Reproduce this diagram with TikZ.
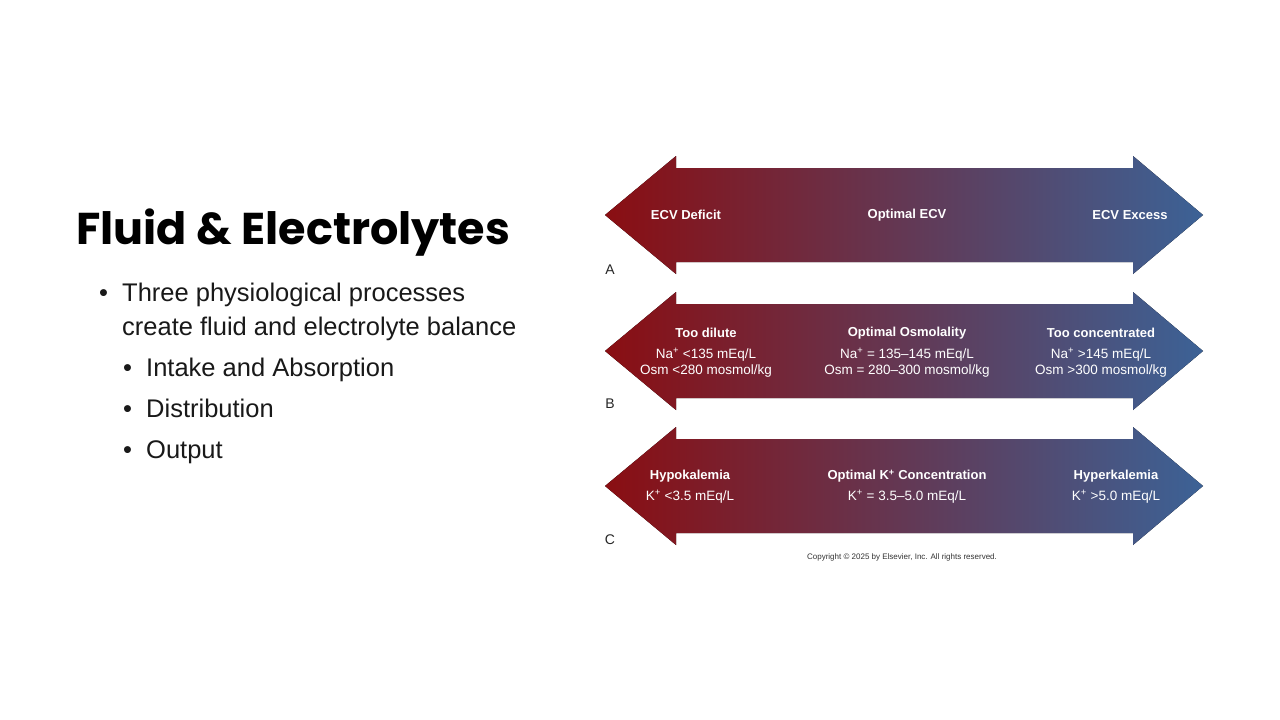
\documentclass[tikz,border=0pt]{standalone}
\usepackage{fontspec}
\setmainfont{Liberation Sans}
\newfontfamily\titlefont{Poppins}[UprightFont=* Bold]
\usepackage{graphicx}
\definecolor{ared}{RGB}{138,14,18}
\definecolor{amid}{RGB}{108,70,94}
\definecolor{ablue}{RGB}{60,98,150}
\tikzset{
  dblarrow/.style={left color=ared, middle color=amid, right color=ablue, draw=none},
  hdr/.style={text=white, font=\fontsize{13}{15}\selectfont\bfseries, anchor=center},
  val/.style={text=white, font=\fontsize{13.5}{16}\selectfont, anchor=center, align=center},
  letter/.style={font=\fontsize{14}{16}\selectfont, text=black!85, anchor=center},
  bul/.style={font=\fontsize{25.5}{30}\selectfont, text=black!90, anchor=base west, inner sep=0},
}
\newcommand{\myarrow}[1]{%
  \fill[dblarrow] (605,#1) -- (676,#1-59) -- (676,#1-47) -- (1133,#1-47) -- (1133,#1-59)
   -- (1203,#1) -- (1133,#1+59) -- (1133,#1+47) -- (676,#1+47) -- (676,#1+59) -- cycle;}
\begin{document}
\begin{tikzpicture}[x=1pt,y=-1pt]
\useasboundingbox (0,0) rectangle (1280,720);
\fill[white] (0,0) rectangle (1280,720);

% Title
\node[anchor=base west, inner sep=0] (title) at (76,244) {\resizebox{434pt}{!}{\titlefont Fluid \& Electrolytes}};

% Bullets
\node[bul] (b1d) at (99,301) {\textbullet};
\node[bul] (b1) at (122,301) {Three physiological processes};
\node[bul] (b1b) at (122,335) {create fluid and electrolyte balance};
\node[bul] (b2d) at (123,376) {\textbullet};
\node[bul] (b2) at (146,376) {Intake and Absorption};
\node[bul] (b3d) at (123,417) {\textbullet};
\node[bul] (b3) at (146,417) {Distribution};
\node[bul] (b4d) at (123,458) {\textbullet};
\node[bul] (b4) at (146,458) {Output};

% Arrows
\myarrow{215}
\myarrow{351}
\myarrow{486}

% A
\node[hdr] (a1) at (686,215) {ECV Deficit};
\node[hdr] (a2) at (907,215) {Optimal ECV};
\node[hdr] (a3) at (1130,215) {ECV Excess};
\node[letter] (la) at (610,270) {A};

% B
\node[hdr] (bh1) at (706,333) {Too dilute};
\node[val] (bv1) at (706,363) {Na\textsuperscript{+} <135 mEq/L\\Osm <280 mosmol/kg};
\node[hdr] (bh2) at (907,333) {Optimal Osmolality};
\node[val] (bv2) at (907,363) {Na\textsuperscript{+} = 135–145 mEq/L\\Osm = 280–300 mosmol/kg};
\node[hdr] (bh3) at (1101,333) {Too concentrated};
\node[val] (bv3) at (1101,363) {Na\textsuperscript{+} >145 mEq/L\\Osm >300 mosmol/kg};
\node[letter] (lb) at (610,404) {B};

% C
\node[hdr] (ch1) at (690,476) {Hypokalemia};
\node[val] (cv1) at (690,497) {K\textsuperscript{+} <3.5 mEq/L};
\node[hdr] (ch2) at (907,476) {Optimal K\textsuperscript{+} Concentration};
\node[val] (cv2) at (907,497) {K\textsuperscript{+} = 3.5–5.0 mEq/L};
\node[hdr] (ch3) at (1116,476) {Hyperkalemia};
\node[val] (cv3) at (1116,497) {K\textsuperscript{+} >5.0 mEq/L};
\node[letter] (lc) at (610,540) {C};

\node[font=\fontsize{8}{10}\selectfont, text=black!80] (copy) at (902,557) {Copyright © 2025 by Elsevier, Inc. All rights reserved.};
\end{tikzpicture}
\end{document}
